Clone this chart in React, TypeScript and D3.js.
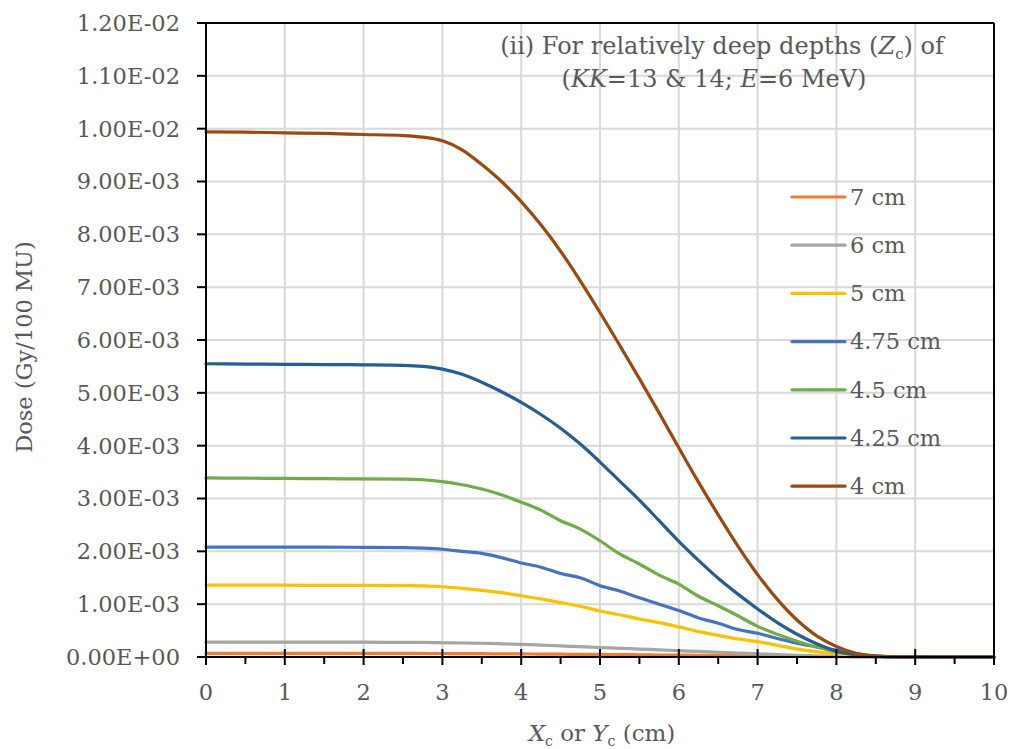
import React from "react";
import * as d3 from "d3";

// x positions (cm)
const xs = [0, 0.5, 1, 1.5, 2, 2.5, 2.75, 3, 3.25, 3.5, 3.75, 4, 4.25, 4.5, 4.75, 5, 5.25, 5.5, 5.75, 6, 6.25, 6.5, 6.75, 7, 7.25, 7.5, 7.75, 8, 8.25, 8.5, 8.75, 9, 9.5, 10];

// dose values in units of 1E-03 Gy/100 MU
const d7 = [0.07, 0.07, 0.07, 0.07, 0.07, 0.068, 0.067, 0.066, 0.064, 0.062, 0.06, 0.058, 0.055, 0.053, 0.05, 0.048, 0.045, 0.042, 0.038, 0.035, 0.032, 0.028, 0.025, 0.02, 0.016, 0.012, 0.009, 0.006, 0.004, 0.002, 0.001, 0, 0, 0];
const d6 = [0.28, 0.28, 0.28, 0.28, 0.28, 0.275, 0.275, 0.27, 0.265, 0.26, 0.25, 0.24, 0.225, 0.21, 0.195, 0.18, 0.165, 0.15, 0.135, 0.12, 0.105, 0.09, 0.075, 0.06, 0.045, 0.03, 0.02, 0.015, 0.008, 0.004, 0.002, 0.001, 0, 0];
const d5 = [1.36, 1.36, 1.36, 1.355, 1.355, 1.35, 1.345, 1.33, 1.3, 1.26, 1.22, 1.16, 1.1, 1.03, 0.96, 0.87, 0.8, 0.72, 0.65, 0.57, 0.48, 0.41, 0.34, 0.29, 0.22, 0.15, 0.1, 0.06, 0.03, 0.01, 0.003, 0.001, 0, 0];
const d475 = [2.08, 2.08, 2.08, 2.08, 2.075, 2.07, 2.06, 2.04, 2.0, 1.96, 1.88, 1.78, 1.7, 1.58, 1.5, 1.35, 1.25, 1.12, 1.0, 0.88, 0.74, 0.64, 0.52, 0.45, 0.35, 0.26, 0.19, 0.13, 0.06, 0.02, 0.005, 0.001, 0, 0];
const d45 = [3.39, 3.385, 3.38, 3.375, 3.37, 3.365, 3.355, 3.32, 3.26, 3.18, 3.07, 2.93, 2.78, 2.58, 2.42, 2.2, 1.95, 1.76, 1.55, 1.38, 1.15, 0.97, 0.78, 0.58, 0.43, 0.3, 0.19, 0.1, 0.04, 0.01, 0.003, 0.001, 0, 0];
const d425 = [5.55, 5.545, 5.54, 5.535, 5.53, 5.52, 5.5, 5.45, 5.35, 5.2, 5.02, 4.82, 4.59, 4.33, 4.03, 3.69, 3.33, 2.97, 2.58, 2.19, 1.83, 1.49, 1.19, 0.91, 0.65, 0.43, 0.25, 0.11, 0.04, 0.01, 0.003, 0.001, 0, 0];
const d4 = [9.94, 9.935, 9.92, 9.91, 9.89, 9.87, 9.84, 9.77, 9.6, 9.32, 9.0, 8.62, 8.18, 7.68, 7.12, 6.52, 5.9, 5.27, 4.62, 3.96, 3.31, 2.69, 2.1, 1.56, 1.09, 0.7, 0.4, 0.2, 0.07, 0.015, 0.003, 0.001, 0, 0];

const seriesNames = ["7 cm", "6 cm", "5 cm", "4.75 cm", "4.5 cm", "4.25 cm", "4 cm"];
const seriesValues = [d7, d6, d5, d475, d45, d425, d4];
const seriesColors = ["#ED7D31", "#A5A5A5", "#FFC000", "#4472C4", "#70AD47", "#255E91", "#9E480E"];

const xTicks = [0, 1, 2, 3, 4, 5, 6, 7, 8, 9, 10];
const xMinorTicks = [0.5, 1.5, 2.5, 3.5, 4.5, 5.5, 6.5, 7.5, 8.5, 9.5];
const yTicks = [0, 1, 2, 3, 4, 5, 6, 7, 8, 9, 10, 11, 12];
const yTickLabels = ["0.00E+00", "1.00E-03", "2.00E-03", "3.00E-03", "4.00E-03", "5.00E-03", "6.00E-03", "7.00E-03", "8.00E-03", "9.00E-03", "1.00E-02", "1.10E-02", "1.20E-02"];

const W = 1013, H = 749;
const L = 206, R = 994, T = 23, B = 657;
const FONT = "'DejaVu Serif', serif";
const TXT = "#595959";

export default function App() {
  const x = d3.scaleLinear().domain([0, 10]).range([L, R]);
  const y = d3.scaleLinear().domain([0, 12]).range([B, T]);
  const line = d3
    .line<number>()
    .x((_, i) => x(xs[i]))
    .y((v) => y(v))
    .curve(d3.curveMonotoneX);

  const legX = 792, legY0 = 197, legDy = 48.2;

  return (
    <svg width={W} height={H} style={{ position: "absolute", left: 0, top: 0, background: "#fff" }} fontFamily={FONT}>
      <rect x={0} y={0} width={W} height={H} fill="#fff" />
      {/* gridlines */}
      {yTicks.map((t) => (
        <line key={"gy" + t} x1={L} x2={R} y1={y(t)} y2={y(t)} stroke="#D9D9D9" strokeWidth={2} />
      ))}
      {xTicks.map((t) => (
        <line key={"gx" + t} x1={x(t)} x2={x(t)} y1={T} y2={B} stroke="#D9D9D9" strokeWidth={2} />
      ))}
      {/* plot border top/right */}
      <line x1={L} x2={R} y1={T} y2={T} stroke="#000" strokeWidth={2} />
      <line x1={R} x2={R} y1={T} y2={B} stroke="#000" strokeWidth={2} />

      {/* series */}
      {seriesValues.map((vals, i) => (
        <path key={"s" + i} d={line(vals) || ""} fill="none" stroke={seriesColors[i]} strokeWidth={3.2} strokeLinejoin="round" strokeLinecap="round" />
      ))}

      {/* axes */}
      <line x1={L} x2={L} y1={T - 1} y2={B + 1} stroke="#000" strokeWidth={2} />
      <line x1={L - 1} x2={R + 1} y1={B} y2={B} stroke="#000" strokeWidth={2} />
      {yTicks.map((t, i) => (
        <g key={"yt" + t}>
          <line x1={L - 9} x2={L} y1={y(t)} y2={y(t)} stroke="#000" strokeWidth={2} />
          <text x={L - 26} y={y(t)} dy="0.35em" textAnchor="end" fontSize={22.5} fill={TXT}>
            {yTickLabels[i]}
          </text>
        </g>
      ))}
      {xTicks.map((t) => (
        <g key={"xt" + t}>
          <line x1={x(t)} x2={x(t)} y1={B - 8} y2={B + 8} stroke="#000" strokeWidth={2} />
          <text x={x(t)} y={B + 35} dy="0.35em" textAnchor="middle" fontSize={22.5} fill={TXT}>
            {t}
          </text>
        </g>
      ))}
      {xMinorTicks.map((t) => (
        <line key={"xm" + t} x1={x(t)} x2={x(t)} y1={B} y2={B + 7} stroke="#000" strokeWidth={2} />
      ))}

      {/* axis titles */}
      <text x={602} y={741} textAnchor="middle" fontSize={23} fill={TXT}>
        <tspan fontStyle="italic">X</tspan>
        <tspan fontSize={14} dy={5}>c</tspan>
        <tspan dy={-5}> or </tspan>
        <tspan fontStyle="italic">Y</tspan>
        <tspan fontSize={14} dy={5}>c</tspan>
        <tspan dy={-5}> (cm)</tspan>
      </text>
      <text transform={`translate(32, ${(T + B) / 2 + 7}) rotate(-90)`} textAnchor="middle" fontSize={22.5} fill={TXT}>
        Dose (Gy/100 MU)
      </text>

      {/* title */}
      <text x={722} y={54} textAnchor="middle" fontSize={24} fill={TXT}>
        <tspan>(ii) For relatively deep depths (</tspan>
        <tspan fontStyle="italic">Z</tspan>
        <tspan fontSize={15} dy={5}>c</tspan>
        <tspan dy={-5}>)  of</tspan>
      </text>
      <text x={714} y={87} textAnchor="middle" fontSize={24} fill={TXT}>
        <tspan>(</tspan>
        <tspan fontStyle="italic">KK</tspan>
        <tspan>=13 &amp; 14; </tspan>
        <tspan fontStyle="italic">E</tspan>
        <tspan>=6 MeV)</tspan>
      </text>

      {/* legend */}
      {seriesNames.map((n, i) => (
        <g key={"lg" + i}>
          <line x1={legX} x2={legX + 53} y1={legY0 + i * legDy} y2={legY0 + i * legDy} stroke={seriesColors[i]} strokeWidth={3.2} strokeLinecap="round" />
          <text x={legX + 58} y={legY0 + i * legDy} dy="0.35em" fontSize={22.5} fill={TXT}>
            {n}
          </text>
        </g>
      ))}
    </svg>
  );
}
